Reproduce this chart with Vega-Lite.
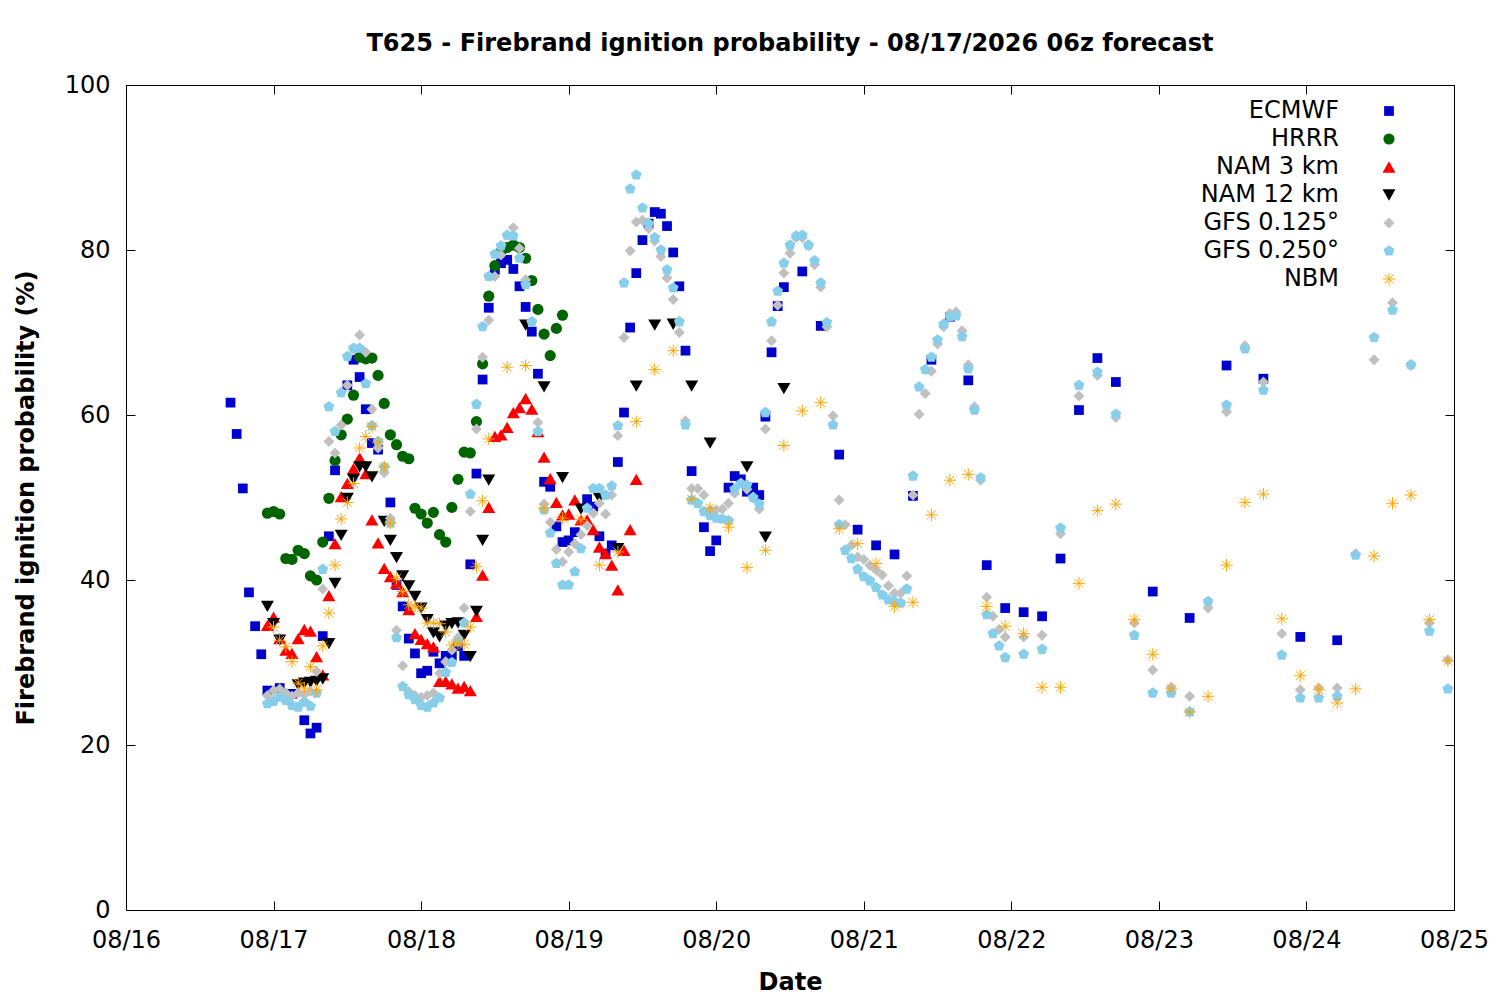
{
  "$schema": "https://vega.github.io/schema/vega-lite/v6.json",
  "autosize": "none",
  "width": 1328,
  "height": 825,
  "padding": {"left": 126, "top": 85, "right": 46, "bottom": 90},
  "background": "white",
  "title": {
    "text": "T625 - Firebrand ignition probability - 08/17/2026 06z forecast",
    "font": "DejaVu Sans",
    "fontSize": 24,
    "fontWeight": "bold",
    "offset": 17
  },
  "config": {
    "view": {"stroke": "black", "strokeWidth": 1},
    "axis": {
      "domain": false,
      "grid": false,
      "tickColor": "black",
      "tickSize": -9,
      "labelFont": "DejaVu Sans",
      "labelFontSize": 24,
      "labelColor": "black",
      "labelFlush": false,
      "labelOverlap": false,
      "titleFont": "DejaVu Sans",
      "titleFontSize": 24,
      "titleFontWeight": "bold",
      "titleColor": "black"
    },
    "legend": {
      "labelFont": "DejaVu Sans",
      "labelFontSize": 24,
      "labelColor": "black",
      "labelAlign": "right",
      "labelOffset": -62,
      "rowPadding": 4,
      "symbolStrokeWidth": 1
    }
  },
  "data": {
    "values": [
      {"m":"ECMWF","h":17,"p":61.5},{"m":"ECMWF","h":18,"p":57.7},{"m":"ECMWF","h":19,"p":51.1},{"m":"ECMWF","h":20,"p":38.5},{"m":"ECMWF","h":21,"p":34.4},{"m":"ECMWF","h":22,"p":31.0},{"m":"ECMWF","h":23,"p":26.6},{"m":"ECMWF","h":25,"p":26.9},{"m":"ECMWF","h":27,"p":26.2},{"m":"ECMWF","h":29,"p":23.0},{"m":"ECMWF","h":30,"p":21.4},{"m":"ECMWF","h":31,"p":22.1},{"m":"ECMWF","h":32,"p":33.2},{"m":"ECMWF","h":33,"p":45.3},{"m":"ECMWF","h":34,"p":53.3},{"m":"ECMWF","h":36,"p":63.6},{"m":"ECMWF","h":37,"p":66.7},{"m":"ECMWF","h":38,"p":64.6},{"m":"ECMWF","h":39,"p":60.7},{"m":"ECMWF","h":40,"p":56.6},{"m":"ECMWF","h":41,"p":55.8},{"m":"ECMWF","h":43,"p":49.4},{"m":"ECMWF","h":44,"p":39.4},{"m":"ECMWF","h":45,"p":36.8},{"m":"ECMWF","h":46,"p":32.9},{"m":"ECMWF","h":47,"p":31.1},{"m":"ECMWF","h":48,"p":28.7},{"m":"ECMWF","h":49,"p":29.0},{"m":"ECMWF","h":50,"p":31.3},{"m":"ECMWF","h":51,"p":29.9},{"m":"ECMWF","h":52,"p":30.8},{"m":"ECMWF","h":53,"p":30.8},{"m":"ECMWF","h":54,"p":32.0},{"m":"ECMWF","h":55,"p":30.8},{"m":"ECMWF","h":56,"p":41.9},{"m":"ECMWF","h":57,"p":52.9},{"m":"ECMWF","h":58,"p":64.3},{"m":"ECMWF","h":59,"p":73.0},{"m":"ECMWF","h":60,"p":77.6},{"m":"ECMWF","h":61,"p":78.4},{"m":"ECMWF","h":62,"p":78.8},{"m":"ECMWF","h":63,"p":77.7},{"m":"ECMWF","h":64,"p":75.6},{"m":"ECMWF","h":65,"p":73.1},{"m":"ECMWF","h":66,"p":70.1},{"m":"ECMWF","h":67,"p":65.0},{"m":"ECMWF","h":68,"p":51.9},{"m":"ECMWF","h":69,"p":51.3},{"m":"ECMWF","h":70,"p":46.5},{"m":"ECMWF","h":71,"p":44.6},{"m":"ECMWF","h":72,"p":44.8},{"m":"ECMWF","h":73,"p":45.8},{"m":"ECMWF","h":75,"p":49.8},{"m":"ECMWF","h":76,"p":48.9},{"m":"ECMWF","h":77,"p":45.3},{"m":"ECMWF","h":78,"p":43.2},{"m":"ECMWF","h":79,"p":44.2},{"m":"ECMWF","h":80,"p":54.3},{"m":"ECMWF","h":81,"p":60.3},{"m":"ECMWF","h":82,"p":70.6},{"m":"ECMWF","h":83,"p":77.2},{"m":"ECMWF","h":84,"p":81.2},{"m":"ECMWF","h":85,"p":83.2},{"m":"ECMWF","h":86,"p":84.6},{"m":"ECMWF","h":87,"p":84.4},{"m":"ECMWF","h":88,"p":82.9},{"m":"ECMWF","h":89,"p":79.7},{"m":"ECMWF","h":90,"p":75.6},{"m":"ECMWF","h":91,"p":67.8},{"m":"ECMWF","h":92,"p":53.2},{"m":"ECMWF","h":94,"p":46.4},{"m":"ECMWF","h":95,"p":43.5},{"m":"ECMWF","h":96,"p":44.8},{"m":"ECMWF","h":98,"p":51.2},{"m":"ECMWF","h":99,"p":52.6},{"m":"ECMWF","h":100,"p":52.2},{"m":"ECMWF","h":101,"p":50.7},{"m":"ECMWF","h":102,"p":51.2},{"m":"ECMWF","h":103,"p":50.3},{"m":"ECMWF","h":104,"p":59.8},{"m":"ECMWF","h":105,"p":67.6},{"m":"ECMWF","h":106,"p":73.2},{"m":"ECMWF","h":107,"p":75.5},{"m":"ECMWF","h":110,"p":77.4},{"m":"ECMWF","h":113,"p":70.8},{"m":"ECMWF","h":116,"p":55.2},{"m":"ECMWF","h":119,"p":46.1},{"m":"ECMWF","h":122,"p":44.2},{"m":"ECMWF","h":125,"p":43.1},{"m":"ECMWF","h":128,"p":50.2},{"m":"ECMWF","h":131,"p":66.7},{"m":"ECMWF","h":134,"p":71.9},{"m":"ECMWF","h":137,"p":64.2},{"m":"ECMWF","h":140,"p":41.8},{"m":"ECMWF","h":143,"p":36.6},{"m":"ECMWF","h":146,"p":36.1},{"m":"ECMWF","h":149,"p":35.6},{"m":"ECMWF","h":152,"p":42.6},{"m":"ECMWF","h":155,"p":60.6},{"m":"ECMWF","h":158,"p":66.9},{"m":"ECMWF","h":161,"p":64.0},{"m":"ECMWF","h":167,"p":38.6},{"m":"ECMWF","h":173,"p":35.4},{"m":"ECMWF","h":179,"p":66.0},{"m":"ECMWF","h":185,"p":64.4},{"m":"ECMWF","h":191,"p":33.1},{"m":"ECMWF","h":197,"p":32.7},
      {"m":"HRRR","h":23,"p":48.1},{"m":"HRRR","h":24,"p":48.3},{"m":"HRRR","h":25,"p":48.0},{"m":"HRRR","h":26,"p":42.6},{"m":"HRRR","h":27,"p":42.5},{"m":"HRRR","h":28,"p":43.6},{"m":"HRRR","h":29,"p":43.2},{"m":"HRRR","h":30,"p":40.5},{"m":"HRRR","h":31,"p":40.0},{"m":"HRRR","h":32,"p":44.6},{"m":"HRRR","h":33,"p":49.9},{"m":"HRRR","h":34,"p":54.5},{"m":"HRRR","h":35,"p":57.6},{"m":"HRRR","h":36,"p":59.5},{"m":"HRRR","h":37,"p":62.4},{"m":"HRRR","h":38,"p":67.0},{"m":"HRRR","h":39,"p":66.8},{"m":"HRRR","h":40,"p":66.9},{"m":"HRRR","h":41,"p":64.8},{"m":"HRRR","h":42,"p":61.4},{"m":"HRRR","h":43,"p":57.6},{"m":"HRRR","h":44,"p":56.4},{"m":"HRRR","h":45,"p":55.0},{"m":"HRRR","h":46,"p":54.7},{"m":"HRRR","h":47,"p":48.7},{"m":"HRRR","h":48,"p":48.0},{"m":"HRRR","h":49,"p":46.9},{"m":"HRRR","h":50,"p":48.2},{"m":"HRRR","h":51,"p":45.5},{"m":"HRRR","h":52,"p":44.6},{"m":"HRRR","h":53,"p":48.8},{"m":"HRRR","h":54,"p":52.2},{"m":"HRRR","h":55,"p":55.5},{"m":"HRRR","h":56,"p":55.4},{"m":"HRRR","h":57,"p":59.2},{"m":"HRRR","h":58,"p":66.2},{"m":"HRRR","h":59,"p":74.4},{"m":"HRRR","h":60,"p":78.1},{"m":"HRRR","h":61,"p":79.8},{"m":"HRRR","h":62,"p":80.3},{"m":"HRRR","h":63,"p":80.6},{"m":"HRRR","h":64,"p":80.3},{"m":"HRRR","h":65,"p":79.0},{"m":"HRRR","h":66,"p":76.3},{"m":"HRRR","h":67,"p":72.8},{"m":"HRRR","h":68,"p":69.8},{"m":"HRRR","h":69,"p":67.2},{"m":"HRRR","h":70,"p":70.5},{"m":"HRRR","h":71,"p":72.1},
      {"m":"NAM 3 km","h":23,"p":34.5},{"m":"NAM 3 km","h":24,"p":35.5},{"m":"NAM 3 km","h":25,"p":32.9},{"m":"NAM 3 km","h":26,"p":31.5},{"m":"NAM 3 km","h":27,"p":31.1},{"m":"NAM 3 km","h":28,"p":32.9},{"m":"NAM 3 km","h":29,"p":34.0},{"m":"NAM 3 km","h":30,"p":33.8},{"m":"NAM 3 km","h":31,"p":30.7},{"m":"NAM 3 km","h":32,"p":28.5},{"m":"NAM 3 km","h":33,"p":38.1},{"m":"NAM 3 km","h":34,"p":44.4},{"m":"NAM 3 km","h":35,"p":50.1},{"m":"NAM 3 km","h":36,"p":51.7},{"m":"NAM 3 km","h":37,"p":53.5},{"m":"NAM 3 km","h":38,"p":54.8},{"m":"NAM 3 km","h":39,"p":52.9},{"m":"NAM 3 km","h":40,"p":47.3},{"m":"NAM 3 km","h":41,"p":44.5},{"m":"NAM 3 km","h":42,"p":41.4},{"m":"NAM 3 km","h":43,"p":40.4},{"m":"NAM 3 km","h":44,"p":39.6},{"m":"NAM 3 km","h":45,"p":38.6},{"m":"NAM 3 km","h":46,"p":36.4},{"m":"NAM 3 km","h":47,"p":33.5},{"m":"NAM 3 km","h":48,"p":32.8},{"m":"NAM 3 km","h":49,"p":32.3},{"m":"NAM 3 km","h":50,"p":31.9},{"m":"NAM 3 km","h":51,"p":27.7},{"m":"NAM 3 km","h":52,"p":27.7},{"m":"NAM 3 km","h":53,"p":27.4},{"m":"NAM 3 km","h":54,"p":26.9},{"m":"NAM 3 km","h":55,"p":27.1},{"m":"NAM 3 km","h":56,"p":26.6},{"m":"NAM 3 km","h":57,"p":35.6},{"m":"NAM 3 km","h":58,"p":40.6},{"m":"NAM 3 km","h":59,"p":48.8},{"m":"NAM 3 km","h":60,"p":57.4},{"m":"NAM 3 km","h":61,"p":57.6},{"m":"NAM 3 km","h":62,"p":58.5},{"m":"NAM 3 km","h":63,"p":60.3},{"m":"NAM 3 km","h":64,"p":60.9},{"m":"NAM 3 km","h":65,"p":62.0},{"m":"NAM 3 km","h":66,"p":60.7},{"m":"NAM 3 km","h":67,"p":58.0},{"m":"NAM 3 km","h":68,"p":54.9},{"m":"NAM 3 km","h":69,"p":52.3},{"m":"NAM 3 km","h":70,"p":49.4},{"m":"NAM 3 km","h":71,"p":47.9},{"m":"NAM 3 km","h":72,"p":48.0},{"m":"NAM 3 km","h":73,"p":49.7},{"m":"NAM 3 km","h":74,"p":47.3},{"m":"NAM 3 km","h":75,"p":47.3},{"m":"NAM 3 km","h":76,"p":46.1},{"m":"NAM 3 km","h":77,"p":44.0},{"m":"NAM 3 km","h":78,"p":43.2},{"m":"NAM 3 km","h":79,"p":41.8},{"m":"NAM 3 km","h":80,"p":38.8},{"m":"NAM 3 km","h":81,"p":43.6},{"m":"NAM 3 km","h":82,"p":46.1},{"m":"NAM 3 km","h":83,"p":52.2},
      {"m":"NAM 12 km","h":23,"p":36.8},{"m":"NAM 12 km","h":24,"p":34.7},{"m":"NAM 12 km","h":25,"p":32.7},{"m":"NAM 12 km","h":28,"p":27.3},{"m":"NAM 12 km","h":29,"p":27.5},{"m":"NAM 12 km","h":30,"p":27.6},{"m":"NAM 12 km","h":31,"p":27.7},{"m":"NAM 12 km","h":32,"p":28.0},{"m":"NAM 12 km","h":33,"p":32.3},{"m":"NAM 12 km","h":34,"p":39.6},{"m":"NAM 12 km","h":35,"p":45.4},{"m":"NAM 12 km","h":36,"p":49.9},{"m":"NAM 12 km","h":37,"p":52.2},{"m":"NAM 12 km","h":38,"p":53.7},{"m":"NAM 12 km","h":39,"p":53.7},{"m":"NAM 12 km","h":40,"p":52.5},{"m":"NAM 12 km","h":42,"p":47.1},{"m":"NAM 12 km","h":43,"p":44.8},{"m":"NAM 12 km","h":44,"p":42.7},{"m":"NAM 12 km","h":45,"p":40.5},{"m":"NAM 12 km","h":46,"p":39.3},{"m":"NAM 12 km","h":47,"p":38.0},{"m":"NAM 12 km","h":48,"p":36.6},{"m":"NAM 12 km","h":49,"p":35.2},{"m":"NAM 12 km","h":50,"p":33.6},{"m":"NAM 12 km","h":51,"p":33.1},{"m":"NAM 12 km","h":52,"p":34.4},{"m":"NAM 12 km","h":53,"p":34.7},{"m":"NAM 12 km","h":54,"p":34.8},{"m":"NAM 12 km","h":55,"p":33.3},{"m":"NAM 12 km","h":56,"p":30.7},{"m":"NAM 12 km","h":57,"p":36.2},{"m":"NAM 12 km","h":58,"p":44.8},{"m":"NAM 12 km","h":59,"p":52.1},{"m":"NAM 12 km","h":65,"p":70.9},{"m":"NAM 12 km","h":68,"p":63.4},{"m":"NAM 12 km","h":71,"p":52.4},{"m":"NAM 12 km","h":74,"p":48.6},{"m":"NAM 12 km","h":77,"p":49.9},{"m":"NAM 12 km","h":80,"p":43.8},{"m":"NAM 12 km","h":83,"p":63.5},{"m":"NAM 12 km","h":86,"p":70.9},{"m":"NAM 12 km","h":89,"p":71.0},{"m":"NAM 12 km","h":92,"p":63.5},{"m":"NAM 12 km","h":95,"p":56.6},{"m":"NAM 12 km","h":101,"p":53.7},{"m":"NAM 12 km","h":104,"p":45.2},{"m":"NAM 12 km","h":107,"p":63.2},
      {"m":"GFS 0.125°","h":23,"p":26.0},{"m":"GFS 0.125°","h":24,"p":26.6},{"m":"GFS 0.125°","h":25,"p":26.8},{"m":"GFS 0.125°","h":26,"p":26.3},{"m":"GFS 0.125°","h":27,"p":25.9},{"m":"GFS 0.125°","h":28,"p":26.3},{"m":"GFS 0.125°","h":29,"p":26.1},{"m":"GFS 0.125°","h":30,"p":26.5},{"m":"GFS 0.125°","h":31,"p":28.9},{"m":"GFS 0.125°","h":32,"p":38.9},{"m":"GFS 0.125°","h":33,"p":56.8},{"m":"GFS 0.125°","h":34,"p":55.4},{"m":"GFS 0.125°","h":35,"p":58.8},{"m":"GFS 0.125°","h":36,"p":63.6},{"m":"GFS 0.125°","h":37,"p":68.0},{"m":"GFS 0.125°","h":38,"p":69.7},{"m":"GFS 0.125°","h":39,"p":67.6},{"m":"GFS 0.125°","h":40,"p":60.7},{"m":"GFS 0.125°","h":41,"p":56.0},{"m":"GFS 0.125°","h":42,"p":53.0},{"m":"GFS 0.125°","h":43,"p":47.5},{"m":"GFS 0.125°","h":44,"p":33.9},{"m":"GFS 0.125°","h":45,"p":29.6},{"m":"GFS 0.125°","h":46,"p":26.5},{"m":"GFS 0.125°","h":47,"p":26.0},{"m":"GFS 0.125°","h":48,"p":25.8},{"m":"GFS 0.125°","h":49,"p":26.0},{"m":"GFS 0.125°","h":50,"p":26.3},{"m":"GFS 0.125°","h":51,"p":28.7},{"m":"GFS 0.125°","h":52,"p":30.1},{"m":"GFS 0.125°","h":53,"p":31.5},{"m":"GFS 0.125°","h":54,"p":33.0},{"m":"GFS 0.125°","h":55,"p":36.6},{"m":"GFS 0.125°","h":56,"p":48.3},{"m":"GFS 0.125°","h":57,"p":58.3},{"m":"GFS 0.125°","h":58,"p":67.0},{"m":"GFS 0.125°","h":59,"p":71.5},{"m":"GFS 0.125°","h":60,"p":76.8},{"m":"GFS 0.125°","h":61,"p":79.4},{"m":"GFS 0.125°","h":62,"p":81.8},{"m":"GFS 0.125°","h":63,"p":82.7},{"m":"GFS 0.125°","h":64,"p":80.2},{"m":"GFS 0.125°","h":65,"p":76.4},{"m":"GFS 0.125°","h":66,"p":71.3},{"m":"GFS 0.125°","h":67,"p":59.1},{"m":"GFS 0.125°","h":68,"p":49.2},{"m":"GFS 0.125°","h":69,"p":47.0},{"m":"GFS 0.125°","h":70,"p":43.7},{"m":"GFS 0.125°","h":71,"p":42.2},{"m":"GFS 0.125°","h":72,"p":43.4},{"m":"GFS 0.125°","h":73,"p":44.4},{"m":"GFS 0.125°","h":74,"p":45.5},{"m":"GFS 0.125°","h":75,"p":46.6},{"m":"GFS 0.125°","h":76,"p":48.1},{"m":"GFS 0.125°","h":77,"p":49.3},{"m":"GFS 0.125°","h":78,"p":48.0},{"m":"GFS 0.125°","h":79,"p":50.3},{"m":"GFS 0.125°","h":80,"p":57.5},{"m":"GFS 0.125°","h":81,"p":69.4},{"m":"GFS 0.125°","h":82,"p":79.9},{"m":"GFS 0.125°","h":83,"p":83.4},{"m":"GFS 0.125°","h":84,"p":83.6},{"m":"GFS 0.125°","h":85,"p":82.6},{"m":"GFS 0.125°","h":86,"p":81.1},{"m":"GFS 0.125°","h":87,"p":79.2},{"m":"GFS 0.125°","h":88,"p":76.6},{"m":"GFS 0.125°","h":89,"p":74.0},{"m":"GFS 0.125°","h":90,"p":70.0},{"m":"GFS 0.125°","h":91,"p":59.3},{"m":"GFS 0.125°","h":92,"p":51.1},{"m":"GFS 0.125°","h":93,"p":51.1},{"m":"GFS 0.125°","h":94,"p":50.3},{"m":"GFS 0.125°","h":95,"p":48.5},{"m":"GFS 0.125°","h":96,"p":48.5},{"m":"GFS 0.125°","h":97,"p":48.6},{"m":"GFS 0.125°","h":98,"p":49.3},{"m":"GFS 0.125°","h":99,"p":50.5},{"m":"GFS 0.125°","h":100,"p":51.7},{"m":"GFS 0.125°","h":101,"p":51.0},{"m":"GFS 0.125°","h":102,"p":49.9},{"m":"GFS 0.125°","h":103,"p":48.6},{"m":"GFS 0.125°","h":104,"p":58.3},{"m":"GFS 0.125°","h":105,"p":69.0},{"m":"GFS 0.125°","h":106,"p":73.3},{"m":"GFS 0.125°","h":107,"p":77.2},{"m":"GFS 0.125°","h":108,"p":79.6},{"m":"GFS 0.125°","h":109,"p":81.5},{"m":"GFS 0.125°","h":110,"p":81.5},{"m":"GFS 0.125°","h":111,"p":80.5},{"m":"GFS 0.125°","h":112,"p":78.2},{"m":"GFS 0.125°","h":113,"p":75.5},{"m":"GFS 0.125°","h":114,"p":70.7},{"m":"GFS 0.125°","h":115,"p":59.9},{"m":"GFS 0.125°","h":116,"p":49.7},{"m":"GFS 0.125°","h":117,"p":46.7},{"m":"GFS 0.125°","h":118,"p":44.2},{"m":"GFS 0.125°","h":119,"p":42.8},{"m":"GFS 0.125°","h":120,"p":42.5},{"m":"GFS 0.125°","h":121,"p":41.8},{"m":"GFS 0.125°","h":122,"p":41.2},{"m":"GFS 0.125°","h":123,"p":40.6},{"m":"GFS 0.125°","h":124,"p":39.3},{"m":"GFS 0.125°","h":125,"p":38.4},{"m":"GFS 0.125°","h":126,"p":38.4},{"m":"GFS 0.125°","h":127,"p":40.5},{"m":"GFS 0.125°","h":128,"p":50.3},{"m":"GFS 0.125°","h":129,"p":60.1},{"m":"GFS 0.125°","h":130,"p":62.6},{"m":"GFS 0.125°","h":131,"p":65.3},{"m":"GFS 0.125°","h":132,"p":68.6},{"m":"GFS 0.125°","h":133,"p":70.7},{"m":"GFS 0.125°","h":134,"p":72.3},{"m":"GFS 0.125°","h":135,"p":72.5},{"m":"GFS 0.125°","h":136,"p":70.2},{"m":"GFS 0.125°","h":137,"p":66.1},{"m":"GFS 0.125°","h":138,"p":61.0},{"m":"GFS 0.125°","h":139,"p":52.1},{"m":"GFS 0.125°","h":140,"p":37.9},{"m":"GFS 0.125°","h":141,"p":35.6},{"m":"GFS 0.125°","h":142,"p":34.0},{"m":"GFS 0.125°","h":143,"p":33.1},{"m":"GFS 0.125°","h":146,"p":33.1},{"m":"GFS 0.125°","h":149,"p":33.3},{"m":"GFS 0.125°","h":152,"p":45.6},{"m":"GFS 0.125°","h":155,"p":62.3},{"m":"GFS 0.125°","h":158,"p":64.8},{"m":"GFS 0.125°","h":161,"p":59.7},{"m":"GFS 0.125°","h":164,"p":34.8},{"m":"GFS 0.125°","h":167,"p":29.1},{"m":"GFS 0.125°","h":170,"p":27.0},{"m":"GFS 0.125°","h":173,"p":25.9},{"m":"GFS 0.125°","h":176,"p":36.6},{"m":"GFS 0.125°","h":179,"p":60.4},{"m":"GFS 0.125°","h":182,"p":68.4},{"m":"GFS 0.125°","h":185,"p":64.0},{"m":"GFS 0.125°","h":188,"p":33.5},{"m":"GFS 0.125°","h":191,"p":26.7},{"m":"GFS 0.125°","h":194,"p":26.9},{"m":"GFS 0.125°","h":197,"p":26.9},{"m":"GFS 0.125°","h":200,"p":43.2},{"m":"GFS 0.125°","h":203,"p":66.7},{"m":"GFS 0.125°","h":206,"p":73.6},{"m":"GFS 0.125°","h":209,"p":66.0},{"m":"GFS 0.125°","h":212,"p":34.8},{"m":"GFS 0.125°","h":215,"p":30.3},
      {"m":"GFS 0.250°","h":23,"p":25.0},{"m":"GFS 0.250°","h":24,"p":25.3},{"m":"GFS 0.250°","h":25,"p":25.8},{"m":"GFS 0.250°","h":26,"p":25.4},{"m":"GFS 0.250°","h":27,"p":24.8},{"m":"GFS 0.250°","h":28,"p":24.6},{"m":"GFS 0.250°","h":29,"p":25.2},{"m":"GFS 0.250°","h":30,"p":24.7},{"m":"GFS 0.250°","h":31,"p":26.3},{"m":"GFS 0.250°","h":32,"p":41.3},{"m":"GFS 0.250°","h":33,"p":61.0},{"m":"GFS 0.250°","h":34,"p":58.0},{"m":"GFS 0.250°","h":35,"p":62.7},{"m":"GFS 0.250°","h":36,"p":67.1},{"m":"GFS 0.250°","h":37,"p":68.1},{"m":"GFS 0.250°","h":38,"p":68.1},{"m":"GFS 0.250°","h":39,"p":63.8},{"m":"GFS 0.250°","h":40,"p":58.7},{"m":"GFS 0.250°","h":41,"p":56.8},{"m":"GFS 0.250°","h":42,"p":53.7},{"m":"GFS 0.250°","h":43,"p":46.9},{"m":"GFS 0.250°","h":44,"p":33.0},{"m":"GFS 0.250°","h":45,"p":27.1},{"m":"GFS 0.250°","h":46,"p":26.1},{"m":"GFS 0.250°","h":47,"p":25.5},{"m":"GFS 0.250°","h":48,"p":24.8},{"m":"GFS 0.250°","h":49,"p":24.6},{"m":"GFS 0.250°","h":50,"p":25.1},{"m":"GFS 0.250°","h":51,"p":25.7},{"m":"GFS 0.250°","h":52,"p":28.8},{"m":"GFS 0.250°","h":53,"p":30.0},{"m":"GFS 0.250°","h":54,"p":32.5},{"m":"GFS 0.250°","h":55,"p":34.8},{"m":"GFS 0.250°","h":56,"p":50.4},{"m":"GFS 0.250°","h":57,"p":61.3},{"m":"GFS 0.250°","h":58,"p":70.7},{"m":"GFS 0.250°","h":59,"p":76.8},{"m":"GFS 0.250°","h":60,"p":79.5},{"m":"GFS 0.250°","h":61,"p":80.5},{"m":"GFS 0.250°","h":62,"p":81.8},{"m":"GFS 0.250°","h":63,"p":81.7},{"m":"GFS 0.250°","h":64,"p":79.0},{"m":"GFS 0.250°","h":65,"p":75.8},{"m":"GFS 0.250°","h":66,"p":71.3},{"m":"GFS 0.250°","h":67,"p":58.0},{"m":"GFS 0.250°","h":68,"p":48.5},{"m":"GFS 0.250°","h":69,"p":45.7},{"m":"GFS 0.250°","h":70,"p":42.0},{"m":"GFS 0.250°","h":71,"p":39.4},{"m":"GFS 0.250°","h":72,"p":39.4},{"m":"GFS 0.250°","h":73,"p":41.0},{"m":"GFS 0.250°","h":74,"p":43.8},{"m":"GFS 0.250°","h":75,"p":48.7},{"m":"GFS 0.250°","h":76,"p":51.1},{"m":"GFS 0.250°","h":77,"p":51.1},{"m":"GFS 0.250°","h":78,"p":50.3},{"m":"GFS 0.250°","h":79,"p":51.4},{"m":"GFS 0.250°","h":80,"p":58.7},{"m":"GFS 0.250°","h":81,"p":76.0},{"m":"GFS 0.250°","h":82,"p":87.4},{"m":"GFS 0.250°","h":83,"p":89.1},{"m":"GFS 0.250°","h":84,"p":85.1},{"m":"GFS 0.250°","h":85,"p":83.2},{"m":"GFS 0.250°","h":86,"p":81.5},{"m":"GFS 0.250°","h":87,"p":80.0},{"m":"GFS 0.250°","h":88,"p":77.6},{"m":"GFS 0.250°","h":89,"p":75.4},{"m":"GFS 0.250°","h":90,"p":71.3},{"m":"GFS 0.250°","h":91,"p":58.8},{"m":"GFS 0.250°","h":92,"p":49.7},{"m":"GFS 0.250°","h":93,"p":49.3},{"m":"GFS 0.250°","h":94,"p":48.3},{"m":"GFS 0.250°","h":95,"p":47.8},{"m":"GFS 0.250°","h":96,"p":47.5},{"m":"GFS 0.250°","h":97,"p":47.4},{"m":"GFS 0.250°","h":98,"p":47.2},{"m":"GFS 0.250°","h":99,"p":51.0},{"m":"GFS 0.250°","h":100,"p":51.7},{"m":"GFS 0.250°","h":101,"p":51.5},{"m":"GFS 0.250°","h":102,"p":50.0},{"m":"GFS 0.250°","h":103,"p":49.2},{"m":"GFS 0.250°","h":104,"p":60.3},{"m":"GFS 0.250°","h":105,"p":71.3},{"m":"GFS 0.250°","h":106,"p":75.0},{"m":"GFS 0.250°","h":107,"p":78.4},{"m":"GFS 0.250°","h":108,"p":80.6},{"m":"GFS 0.250°","h":109,"p":81.7},{"m":"GFS 0.250°","h":110,"p":81.8},{"m":"GFS 0.250°","h":111,"p":80.6},{"m":"GFS 0.250°","h":112,"p":78.7},{"m":"GFS 0.250°","h":113,"p":76.0},{"m":"GFS 0.250°","h":114,"p":71.2},{"m":"GFS 0.250°","h":115,"p":58.8},{"m":"GFS 0.250°","h":116,"p":46.7},{"m":"GFS 0.250°","h":117,"p":43.6},{"m":"GFS 0.250°","h":118,"p":42.6},{"m":"GFS 0.250°","h":119,"p":41.3},{"m":"GFS 0.250°","h":120,"p":40.4},{"m":"GFS 0.250°","h":121,"p":39.9},{"m":"GFS 0.250°","h":122,"p":39.1},{"m":"GFS 0.250°","h":123,"p":38.2},{"m":"GFS 0.250°","h":124,"p":37.6},{"m":"GFS 0.250°","h":125,"p":37.4},{"m":"GFS 0.250°","h":126,"p":37.2},{"m":"GFS 0.250°","h":127,"p":38.9},{"m":"GFS 0.250°","h":128,"p":52.6},{"m":"GFS 0.250°","h":129,"p":63.4},{"m":"GFS 0.250°","h":130,"p":65.5},{"m":"GFS 0.250°","h":131,"p":67.0},{"m":"GFS 0.250°","h":132,"p":69.1},{"m":"GFS 0.250°","h":133,"p":71.0},{"m":"GFS 0.250°","h":134,"p":71.9},{"m":"GFS 0.250°","h":135,"p":72.0},{"m":"GFS 0.250°","h":136,"p":69.5},{"m":"GFS 0.250°","h":137,"p":65.6},{"m":"GFS 0.250°","h":138,"p":60.6},{"m":"GFS 0.250°","h":139,"p":52.4},{"m":"GFS 0.250°","h":140,"p":35.8},{"m":"GFS 0.250°","h":141,"p":33.5},{"m":"GFS 0.250°","h":142,"p":32.0},{"m":"GFS 0.250°","h":143,"p":30.6},{"m":"GFS 0.250°","h":146,"p":31.0},{"m":"GFS 0.250°","h":149,"p":31.6},{"m":"GFS 0.250°","h":152,"p":46.3},{"m":"GFS 0.250°","h":155,"p":63.6},{"m":"GFS 0.250°","h":158,"p":65.2},{"m":"GFS 0.250°","h":161,"p":60.1},{"m":"GFS 0.250°","h":164,"p":33.3},{"m":"GFS 0.250°","h":167,"p":26.3},{"m":"GFS 0.250°","h":170,"p":26.3},{"m":"GFS 0.250°","h":173,"p":24.0},{"m":"GFS 0.250°","h":176,"p":37.4},{"m":"GFS 0.250°","h":179,"p":61.2},{"m":"GFS 0.250°","h":182,"p":68.0},{"m":"GFS 0.250°","h":185,"p":63.0},{"m":"GFS 0.250°","h":188,"p":30.9},{"m":"GFS 0.250°","h":191,"p":25.7},{"m":"GFS 0.250°","h":194,"p":25.7},{"m":"GFS 0.250°","h":197,"p":25.9},{"m":"GFS 0.250°","h":200,"p":43.0},{"m":"GFS 0.250°","h":203,"p":69.4},{"m":"GFS 0.250°","h":206,"p":72.7},{"m":"GFS 0.250°","h":209,"p":66.1},{"m":"GFS 0.250°","h":212,"p":33.8},{"m":"GFS 0.250°","h":215,"p":26.8},
      {"m":"NBM","h":24,"p":34.3},{"m":"NBM","h":25,"p":32.7},{"m":"NBM","h":26,"p":31.9},{"m":"NBM","h":27,"p":30.1},{"m":"NBM","h":28,"p":27.5},{"m":"NBM","h":29,"p":26.9},{"m":"NBM","h":30,"p":29.5},{"m":"NBM","h":31,"p":26.7},{"m":"NBM","h":32,"p":32.0},{"m":"NBM","h":33,"p":36.0},{"m":"NBM","h":34,"p":41.8},{"m":"NBM","h":35,"p":47.4},{"m":"NBM","h":36,"p":49.4},{"m":"NBM","h":37,"p":51.7},{"m":"NBM","h":38,"p":56.0},{"m":"NBM","h":39,"p":57.4},{"m":"NBM","h":40,"p":58.6},{"m":"NBM","h":41,"p":56.7},{"m":"NBM","h":42,"p":53.7},{"m":"NBM","h":43,"p":46.9},{"m":"NBM","h":44,"p":40.2},{"m":"NBM","h":45,"p":38.6},{"m":"NBM","h":46,"p":37.0},{"m":"NBM","h":47,"p":36.8},{"m":"NBM","h":48,"p":36.6},{"m":"NBM","h":49,"p":34.8},{"m":"NBM","h":50,"p":34.8},{"m":"NBM","h":51,"p":34.7},{"m":"NBM","h":52,"p":33.7},{"m":"NBM","h":53,"p":32.1},{"m":"NBM","h":54,"p":32.3},{"m":"NBM","h":55,"p":32.2},{"m":"NBM","h":56,"p":34.3},{"m":"NBM","h":57,"p":41.6},{"m":"NBM","h":58,"p":49.6},{"m":"NBM","h":59,"p":57.1},{"m":"NBM","h":62,"p":65.8},{"m":"NBM","h":65,"p":66.0},{"m":"NBM","h":68,"p":48.7},{"m":"NBM","h":71,"p":47.5},{"m":"NBM","h":74,"p":47.3},{"m":"NBM","h":77,"p":41.8},{"m":"NBM","h":80,"p":43.4},{"m":"NBM","h":83,"p":59.2},{"m":"NBM","h":86,"p":65.5},{"m":"NBM","h":89,"p":67.8},{"m":"NBM","h":92,"p":49.8},{"m":"NBM","h":95,"p":48.7},{"m":"NBM","h":98,"p":46.4},{"m":"NBM","h":101,"p":41.5},{"m":"NBM","h":104,"p":43.6},{"m":"NBM","h":107,"p":56.3},{"m":"NBM","h":110,"p":60.5},{"m":"NBM","h":113,"p":61.5},{"m":"NBM","h":116,"p":46.2},{"m":"NBM","h":119,"p":44.4},{"m":"NBM","h":122,"p":42.0},{"m":"NBM","h":125,"p":36.8},{"m":"NBM","h":128,"p":37.3},{"m":"NBM","h":131,"p":47.9},{"m":"NBM","h":134,"p":52.1},{"m":"NBM","h":137,"p":52.8},{"m":"NBM","h":140,"p":36.8},{"m":"NBM","h":143,"p":34.4},{"m":"NBM","h":146,"p":33.5},{"m":"NBM","h":149,"p":27.0},{"m":"NBM","h":152,"p":27.0},{"m":"NBM","h":155,"p":39.6},{"m":"NBM","h":158,"p":48.4},{"m":"NBM","h":161,"p":49.2},{"m":"NBM","h":164,"p":35.2},{"m":"NBM","h":167,"p":31.0},{"m":"NBM","h":170,"p":26.8},{"m":"NBM","h":173,"p":24.0},{"m":"NBM","h":176,"p":25.9},{"m":"NBM","h":179,"p":41.8},{"m":"NBM","h":182,"p":49.4},{"m":"NBM","h":185,"p":50.4},{"m":"NBM","h":188,"p":35.3},{"m":"NBM","h":191,"p":28.4},{"m":"NBM","h":194,"p":26.7},{"m":"NBM","h":197,"p":25.1},{"m":"NBM","h":200,"p":26.8},{"m":"NBM","h":203,"p":42.9},{"m":"NBM","h":206,"p":49.3},{"m":"NBM","h":209,"p":50.3},{"m":"NBM","h":212,"p":35.2},{"m":"NBM","h":215,"p":30.2}
    ]
  },
  "resolve": {"axis": {"x": "independent", "y": "independent"}},
  "layer": [
    {
      "mark": {"type": "point", "filled": true, "opacity": 1, "strokeWidth": 1},
      "encoding": {
        "x": {
          "field": "h",
          "type": "quantitative",
          "scale": {"domain": [0, 216], "nice": false, "zero": false},
          "axis": {
            "title": "Date",
            "values": [0, 24, 48, 72, 96, 120, 144, 168, 192, 216],
            "labelExpr": "'08/' + (16 + datum.value / 24)",
            "labelPadding": 27,
            "titlePadding": 18
          }
        },
        "y": {
          "field": "p",
          "type": "quantitative",
          "scale": {"domain": [0, 100], "nice": false},
          "axis": {
            "title": "Firebrand ignition probability (%)",
            "values": [0, 20, 40, 60, 80, 100],
            "labelPadding": 25,
            "titlePadding": 26
          }
        },
        "shape": {
          "field": "m",
          "type": "nominal",
          "scale": {
            "domain": ["ECMWF", "HRRR", "NAM 3 km", "NAM 12 km", "GFS 0.125°", "GFS 0.250°", "NBM"],
            "range": ["square", "circle", "triangle-up", "triangle-down", "diamond", "M0,-1L0.951,-0.309L0.588,0.809L-0.588,0.809L-0.951,-0.309Z", "M-1,0L1,0M0,-1L0,1M-0.72,-0.72L0.72,0.72M-0.72,0.72L0.72,-0.72"]
          },
          "legend": {"title": null, "orient": "none", "legendX": 1251, "legendY": 14}
        },
        "fill": {
          "field": "m",
          "type": "nominal",
          "scale": {
            "domain": ["ECMWF", "HRRR", "NAM 3 km", "NAM 12 km", "GFS 0.125°", "GFS 0.250°", "NBM"],
            "range": ["#0000cd", "#006400", "#ff0000", "#000000", "#c0c0c0", "#87ceeb", "transparent"]
          },
          "legend": {"title": null, "orient": "none", "legendX": 1251, "legendY": 14}
        },
        "stroke": {
          "field": "m",
          "type": "nominal",
          "scale": {
            "domain": ["ECMWF", "HRRR", "NAM 3 km", "NAM 12 km", "GFS 0.125°", "GFS 0.250°", "NBM"],
            "range": ["transparent", "transparent", "transparent", "transparent", "transparent", "transparent", "#ffa500"]
          },
          "legend": {"title": null, "orient": "none", "legendX": 1251, "legendY": 14}
        },
        "size": {
          "field": "m",
          "type": "nominal",
          "scale": {
            "type": "ordinal",
            "domain": ["ECMWF", "HRRR", "NAM 3 km", "NAM 12 km", "GFS 0.125°", "GFS 0.250°", "NBM"],
            "range": [95, 125, 170, 170, 120, 130, 150]
          },
          "legend": {"title": null, "orient": "none", "legendX": 1251, "legendY": 14}
        }
      }
    },
    {
      "mark": {"type": "point", "opacity": 0},
      "encoding": {
        "x": {
          "field": "h",
          "type": "quantitative",
          "axis": {"orient": "top", "title": null, "labels": false, "values": [0, 24, 48, 72, 96, 120, 144, 168, 192, 216]}
        },
        "y": {
          "field": "p",
          "type": "quantitative",
          "axis": {"orient": "right", "title": null, "labels": false, "values": [0, 20, 40, 60, 80, 100]}
        }
      }
    }
  ]
}
